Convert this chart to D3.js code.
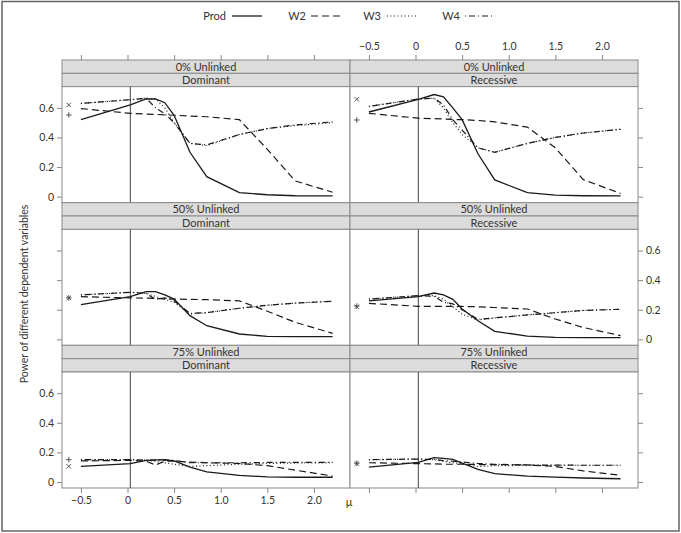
<!DOCTYPE html>
<html><head><meta charset="utf-8">
<script src="https://cdn.jsdelivr.net/npm/d3@7"></script>
<style>
body{margin:0;background:#fff;}
svg text{font-family:Lato,"Open Sans",sans-serif;fill:#333;}
</style></head>
<body>
<svg id="chart" width="681" height="533"></svg>
<script>
// ---------- data ----------
const mu = [-0.5, 0.03, 0.2, 0.3, 0.4, 0.5, 0.67, 0.85, 1.2, 1.5, 1.8, 2.2];
const unlinkedLevels = ["0% Unlinked", "50% Unlinked", "75% Unlinked"];
const models = ["Dominant", "Recessive"];
const seriesNames = ["Prod", "W2", "W3", "W4"];
const xTicks = [-0.5, 0, 0.5, 1.0, 1.5, 2.0];
const xTickLabels = ["\u22120.5", "0", "0.5", "1.0", "1.5", "2.0"];
const yTicks = [0, 0.2, 0.4, 0.6];
const yTickLabels = ["0", "0.2", "0.4", "0.6"];
const refLine = 0.03;
const markerMu = -0.63;

// 0% Unlinked, Dominant
const prod0D = [0.52, 0.62, 0.66, 0.66, 0.635, 0.55, 0.30, 0.135, 0.027, 0.013, 0.006, 0.005];
const w20D   = [0.595, 0.563, 0.558, 0.556, 0.553, 0.55, 0.545, 0.54, 0.52, 0.32, 0.106, 0.03];
const w30D   = [0.63, 0.655, 0.665, 0.66, 0.60, 0.50, 0.36, 0.345, 0.42, 0.46, 0.48, 0.50];
const w40D   = [0.63, 0.655, 0.665, 0.60, 0.56, 0.50, 0.36, 0.35, 0.42, 0.46, 0.485, 0.505];
// 0% Unlinked, Recessive
const prod0R = [0.572, 0.658, 0.69, 0.675, 0.60, 0.52, 0.29, 0.113, 0.027, 0.01, 0.006, 0.005];
const w20R   = [0.563, 0.53, 0.527, 0.525, 0.522, 0.52, 0.515, 0.505, 0.47, 0.33, 0.115, 0.022];
const w30R   = [0.61, 0.66, 0.665, 0.60, 0.50, 0.42, 0.33, 0.30, 0.36, 0.40, 0.43, 0.455];
const w40R   = [0.61, 0.66, 0.665, 0.62, 0.52, 0.45, 0.33, 0.30, 0.36, 0.40, 0.43, 0.455];
// 50% Unlinked, Dominant
const prod50D = [0.234, 0.288, 0.322, 0.322, 0.30, 0.272, 0.16, 0.092, 0.036, 0.02, 0.018, 0.018];
const w250D   = [0.288, 0.28, 0.278, 0.276, 0.274, 0.272, 0.27, 0.268, 0.26, 0.19, 0.115, 0.04];
const w350D   = [0.30, 0.318, 0.31, 0.29, 0.27, 0.25, 0.17, 0.18, 0.21, 0.23, 0.245, 0.257];
const w450D   = [0.30, 0.318, 0.31, 0.27, 0.28, 0.26, 0.175, 0.18, 0.21, 0.23, 0.245, 0.257];
// 50% Unlinked, Recessive
const prod50R = [0.26, 0.288, 0.313, 0.30, 0.27, 0.205, 0.126, 0.054, 0.022, 0.013, 0.011, 0.011];
const w250R   = [0.243, 0.223, 0.223, 0.223, 0.223, 0.222, 0.22, 0.215, 0.205, 0.137, 0.08, 0.025];
const w350R   = [0.272, 0.295, 0.295, 0.27, 0.22, 0.17, 0.13, 0.144, 0.165, 0.18, 0.195, 0.203];
const w450R   = [0.272, 0.295, 0.29, 0.25, 0.24, 0.20, 0.135, 0.145, 0.165, 0.18, 0.195, 0.203];
// 75% Unlinked, Dominant
const prod75D = [0.106, 0.124, 0.146, 0.15, 0.151, 0.142, 0.10, 0.068, 0.045, 0.034, 0.032, 0.032];
const w275D   = [0.142, 0.146, 0.14, 0.115, 0.14, 0.14, 0.135, 0.13, 0.125, 0.11, 0.08, 0.04];
const w375D   = [0.15, 0.15, 0.148, 0.14, 0.13, 0.12, 0.105, 0.11, 0.12, 0.125, 0.128, 0.13];
const w475D   = [0.151, 0.151, 0.148, 0.148, 0.148, 0.145, 0.13, 0.13, 0.13, 0.132, 0.133, 0.133];
// 75% Unlinked, Recessive
const prod75R = [0.101, 0.133, 0.164, 0.16, 0.153, 0.128, 0.085, 0.056, 0.04, 0.033, 0.027, 0.022];
const w275R   = [0.13, 0.124, 0.122, 0.12, 0.12, 0.12, 0.118, 0.118, 0.115, 0.105, 0.075, 0.045];
const w375R   = [0.15, 0.155, 0.15, 0.14, 0.13, 0.125, 0.105, 0.11, 0.112, 0.113, 0.113, 0.113];
const w475R   = [0.151, 0.155, 0.152, 0.145, 0.14, 0.135, 0.125, 0.12, 0.115, 0.114, 0.113, 0.113];

// single-point markers at the left of each panel ("x" and "+")
const crossMarkY = [0.62, 0.658, 0.28, 0.22, 0.106, 0.124];
const plusMarkY  = [0.552, 0.518, 0.28, 0.225, 0.151, 0.127];

const panelSeries = [
  [prod0D, w20D, w30D, w40D], [prod0R, w20R, w30R, w40R],
  [prod50D, w250D, w350D, w450D], [prod50R, w250R, w350R, w450R],
  [prod75D, w275D, w375D, w475D], [prod75R, w275R, w375R, w475R]
];

// ---------- styles ----------
const dashes = {Prod: null, W2: "7,4", W3: "1,2.5", W4: "1,3,6,3"};
const lineWidth = {Prod: 1.3, W2: 1.2, W3: 1.2, W4: 1.2};

// ---------- layout ----------
const svg = d3.select("#chart");
const colLeft = [62, 350], panelW = 288;
const rowTop = [60, 202.67, 345.33], stripH = 13.33, panelH = 116;

const x = d3.scaleLinear().domain([-0.703, 2.387]).range([0, panelW]);
const y = d3.scaleLinear().domain([-6/148, 110/148]).range([panelH, 0]);

// outer frame
svg.append("rect").attr("x", 2).attr("y", 1.5).attr("width", 677).attr("height", 529.5)
  .attr("fill", "none").attr("stroke", "#666").attr("stroke-width", 1.5);

const line = d3.line().x((d, i) => x(mu[i])).y(d => y(d));

for (let r = 0; r < 3; r++) {
  for (let c = 0; c < 2; c++) {
    const idx = r * 2 + c;
    const g = svg.append("g").attr("transform", `translate(${colLeft[c]},${rowTop[r]})`);
    // strips
    const labels = [unlinkedLevels[r], models[c]];
    labels.forEach((lab, k) => {
      g.append("rect").attr("x", 0).attr("y", k * stripH).attr("width", panelW).attr("height", stripH)
        .attr("fill", "#dcdcdc").attr("stroke", "#8a8a8a").attr("stroke-width", 1);
      g.append("text").attr("x", panelW / 2).attr("y", k * stripH + stripH / 2 + 4)
        .attr("text-anchor", "middle").attr("font-size", 11).text(lab);
    });
    const p = g.append("g").attr("transform", `translate(0,${2 * stripH})`);
    p.append("rect").attr("width", panelW).attr("height", panelH)
      .attr("fill", "#fff").attr("stroke", "#8a8a8a").attr("stroke-width", 1);
    // reference line
    p.append("line").attr("x1", x(refLine)).attr("x2", x(refLine)).attr("y1", 0).attr("y2", panelH)
      .attr("stroke", "#444").attr("stroke-width", 1);
    // series
    panelSeries[idx].forEach((vals, s) => {
      const name = seriesNames[s];
      p.append("path").datum(vals).attr("d", line)
        .attr("fill", "none").attr("stroke", "#1a1a1a")
        .attr("stroke-width", lineWidth[name])
        .attr("stroke-dasharray", dashes[name]);
    });
    // markers
    const mx = x(markerMu);
    p.append("path").attr("transform", `translate(${mx},${y(crossMarkY[idx])})`)
      .attr("d", "M-2.2,-2.2L2.2,2.2M-2.2,2.2L2.2,-2.2").attr("stroke", "#444").attr("stroke-width", 0.9);
    p.append("path").attr("transform", `translate(${mx},${y(plusMarkY[idx])})`)
      .attr("d", "M-2.8,0L2.8,0M0,-2.8L0,2.8").attr("stroke", "#444").attr("stroke-width", 0.9);

    // y axes
    if (c === 0) {
      const ax = d3.axisLeft(y).tickValues(yTicks).tickSize(5).tickPadding(3)
        .tickFormat((d, i) => r === 1 ? "" : yTickLabels[i]);
      p.append("g").attr("class", "ax").call(ax);
    } else {
      const ax = d3.axisRight(y).tickValues(yTicks).tickSize(5).tickPadding(3)
        .tickFormat((d, i) => r === 1 ? yTickLabels[i] : "");
      p.append("g").attr("class", "ax").attr("transform", `translate(${panelW},0)`).call(ax);
    }
    // x axes
    if (r === 0) {
      const ax = d3.axisTop(x).tickValues(xTicks).tickSize(5).tickPadding(5)
        .tickFormat((d, i) => c === 1 ? xTickLabels[i] : "");
      g.append("g").attr("class", "ax").call(ax);
    }
    if (r === 2) {
      const ax = d3.axisBottom(x).tickValues(xTicks).tickSize(5).tickPadding(4)
        .tickFormat((d, i) => c === 0 ? xTickLabels[i] : "");
      p.append("g").attr("class", "ax").attr("transform", `translate(0,${panelH})`).call(ax);
    }
  }
}
svg.selectAll(".ax .domain").remove();
svg.selectAll(".ax line").attr("stroke", "#888");
svg.selectAll(".ax text").attr("font-size", 10.5).attr("fill", "#333")
  .style("font-family", "Lato, 'Open Sans', sans-serif");

// axis titles
svg.append("text").attr("transform", "translate(28,294) rotate(-90)").attr("text-anchor", "middle")
  .attr("font-size", 10.5).text("Power of different dependent variables");
svg.append("text").attr("x", 349).attr("y", 506).attr("text-anchor", "middle")
  .attr("font-size", 11).text("\u03bc");

// legend
const legendItems = [
  {name: "Prod", tx: 226, lx: 232},
  {name: "W2", tx: 306, lx: 311},
  {name: "W3", tx: 381, lx: 387},
  {name: "W4", tx: 460, lx: 465}
];
const legY = 16;
legendItems.forEach(it => {
  svg.append("text").attr("x", it.tx).attr("y", legY + 4).attr("text-anchor", "end")
    .attr("font-size", 11).text(it.name);
  svg.append("line").attr("x1", it.lx).attr("x2", it.lx + 30).attr("y1", legY).attr("y2", legY)
    .attr("stroke", "#1a1a1a").attr("stroke-width", lineWidth[it.name])
    .attr("stroke-dasharray", dashes[it.name]);
});
</script>
</body></html>
